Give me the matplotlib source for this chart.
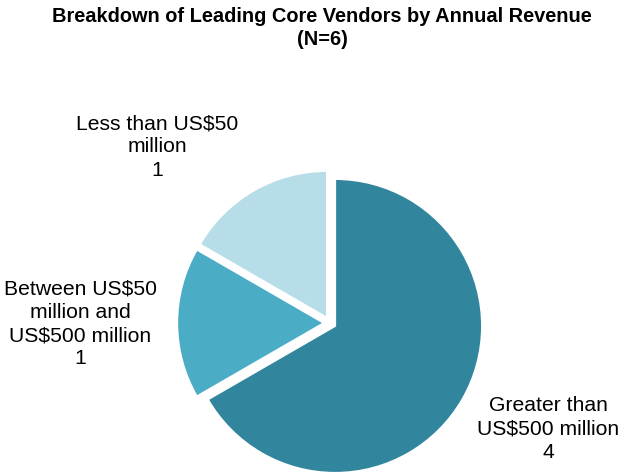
import matplotlib
matplotlib.use('agg')
import matplotlib.pyplot as plt

plt.rcParams['font.family'] = ['Liberation Sans', 'DejaVu Sans']

categories = ['Greater than\nUS$500 million', 'Between US$50\nmillion and\nUS$500 million', 'Less than US$50\nmillion']
values = [4, 1, 1]
colors = ['#31859C', '#4BACC6', '#B7DEE8']
title = 'Breakdown of Leading Core Vendors by Annual Revenue\n(N=6)'

W, H = 625, 477
cx, cy, r = 330, 153, 147  # pie centre (px from bottom-left) and radius

fig = plt.figure(figsize=(W / 100, H / 100), dpi=100)
ax = fig.add_axes([0, 0, 1, 1])
ax.pie(values, colors=colors, startangle=90, counterclock=False,
       explode=[0.04] * len(values), radius=1,
       wedgeprops=dict(edgecolor='white', linewidth=1.5))
ax.set_xlim(-cx / r, (W - cx) / r)
ax.set_ylim(-cy / r, (H - cy) / r)
ax.set_aspect('auto')
ax.axis('off')

# label positions in pixels (x, y from top)
label_pos = [(548, 429), (80, 324), (157, 147)]
for cat, v, (x, y) in zip(categories, values, label_pos):
    fig.text(x / W, 1 - y / H, f'{cat}\n{v}', ha='center', va='center',
             fontsize=15.2, linespacing=1.27)

fig.text(322 / W, 1 - 28 / H, title, ha='center', va='center',
         fontsize=14.4, fontweight='bold', linespacing=1.32)

plt.savefig('out.png', dpi=100)
plt.close()
